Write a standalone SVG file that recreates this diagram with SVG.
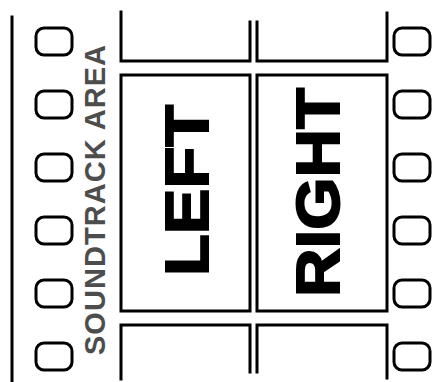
<svg xmlns="http://www.w3.org/2000/svg" width="446" height="382" viewBox="0 0 446 382">
<style>
.ln{fill:none;stroke:#000;stroke-width:3;stroke-linecap:square}
.hole{fill:#fff;stroke:#000;stroke-width:3}
.big{font-family:"Liberation Sans",Arial,sans-serif;font-weight:bold;font-size:61px;fill:#000;stroke:#000;stroke-width:2}
.snd{font-family:"Liberation Sans",Arial,sans-serif;font-weight:bold;font-size:29px;fill:#4d4d4d}
</style>
<defs>
<rect id="h" width="36" height="27" rx="8" ry="8" class="hole"/>
</defs>
<rect width="446" height="382" fill="#fff"/>
<g id="margin"><line class="ln" x1="12" y1="17" x2="12" y2="382" stroke-width="2.5"/></g>
<g id="holes-left">
<use href="#h" x="36" y="28"/><use href="#h" x="36" y="91"/><use href="#h" x="36" y="154"/>
<use href="#h" x="36" y="217"/><use href="#h" x="36" y="280"/><use href="#h" x="36" y="343"/>
</g>
<g id="holes-right">
<use href="#h" x="394" y="28"/><use href="#h" x="394" y="91"/><use href="#h" x="394" y="154"/>
<use href="#h" x="394" y="217"/><use href="#h" x="394" y="280"/><use href="#h" x="394" y="343"/>
</g>
<g id="soundtrack"><text class="snd" transform="translate(105,355) rotate(-90)" textLength="310" lengthAdjust="spacing">SOUNDTRACK  AREA</text></g>
<g id="frame-top">
<path class="ln" d="M121 12 V61 H250 V22"/>
<path class="ln" d="M257 22 V61 H387 V13"/>
</g>
<g id="left"><rect class="ln" x="121" y="75" width="129" height="236"/>
<text class="big" transform="translate(208,276) rotate(-90)" textLength="171" lengthAdjust="spacingAndGlyphs">LEFT</text></g>
<g id="right"><rect class="ln" x="257" y="75" width="130" height="236"/>
<text class="big" transform="translate(339,297) rotate(-90)" textLength="209" lengthAdjust="spacingAndGlyphs">RIGHT</text></g>
<g id="frame-bottom">
<path class="ln" d="M121 379 V325 H250 V372"/>
<path class="ln" d="M257 372 V325 H387 V378"/>
</g>
</svg>
